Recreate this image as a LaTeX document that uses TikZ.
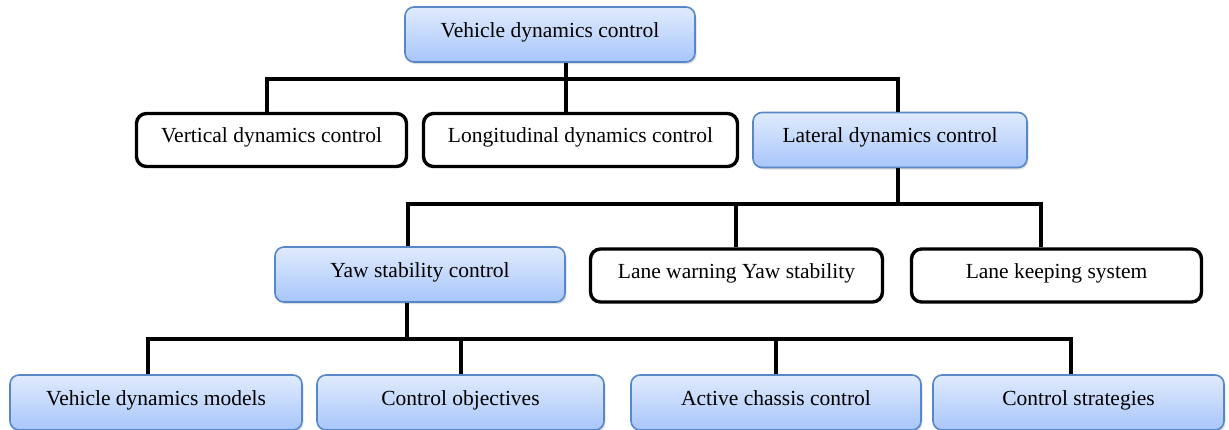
\documentclass[tikz,border=0pt]{standalone}
\usepackage{fontspec}
\setmainfont{Liberation Serif}
\usetikzlibrary{shadows}

\definecolor{boxtop}{RGB}{224,235,253}
\definecolor{boxbot}{RGB}{168,198,250}
\definecolor{boxline}{RGB}{88,135,199}

\begin{document}
\begin{tikzpicture}[
        x=1pt, y=-1pt,
        bluebox/.style={draw=boxline, line width=1.6pt, rounded corners=9pt, minimum height=55pt, inner sep=0pt, text height=13pt, text depth=8pt, align=center, font=\fontsize{21.5}{25}\selectfont, top color=boxtop, bottom color=boxbot, drop shadow={opacity=0.25, shadow xshift=1.5pt, shadow yshift=-2pt}},
        plainbox/.style={draw, line width=3.4pt, rounded corners=10pt, minimum height=53pt, inner sep=0pt, text height=13pt, text depth=8pt, align=center, font=\fontsize{21.5}{25}\selectfont, fill=white},
        link/.style={line width=3.6pt}
    ]
        \useasboundingbox (0,0) rectangle (1229,429);
        % junction points of the three bars
        \coordinate (r1a) at (267,79);
        \coordinate (r1b) at (566,79);
        \coordinate (r1c) at (898,79);
        \coordinate (r2a) at (408,204);
        \coordinate (r2b) at (736,204);
        \coordinate (r2c) at (1041,204);
        \coordinate (r3a) at (148,339);
        \coordinate (r3b) at (407,339);
        \coordinate (r3c) at (1071,339);
        % boxes
        \node[bluebox, minimum width=290pt] (top) at (550,34.5) {Vehicle dynamics control};
        \node[plainbox, minimum width=270pt] (vert) at (271.5,140) {Vertical dynamics control};
        \node[plainbox, minimum width=314pt] (long) at (580.5,140) {Longitudinal dynamics control};
        \node[bluebox, minimum width=274pt] (lat) at (890,140) {Lateral dynamics control};
        \node[bluebox, minimum width=290pt] (yaw) at (420,274.5) {Yaw stability control};
        \node[plainbox, minimum width=292pt] (warn) at (736.5,275.5) {Lane warning Yaw stability};
        \node[plainbox, minimum width=290pt] (keep) at (1056.5,275.5) {Lane keeping system};
        \node[bluebox, minimum width=292pt] (models) at (156,402.5) {Vehicle dynamics models};
        \node[bluebox, minimum width=287pt] (objs) at (460.5,402.5) {Control objectives};
        \node[bluebox, minimum width=290pt] (chassis) at (776,402.5) {Active chassis control};
        \node[bluebox, minimum width=291pt] (strat) at (1078.5,402.5) {Control strategies};
        % first level
        \draw[link] (r1b |- top.south) -- (r1b |- long.north);
        \draw[link] (r1a |- vert.north) -- (r1a) -- (r1c) -- (r1c |- lat.north);
        % second level
        \draw[link] (r1c |- lat.south) -- (r1c |- r2c);
        \draw[link] (r2a |- yaw.north) -- (r2a) -- (r2c) -- (r2c |- keep.north);
        \draw[link] (r2b) -- (r2b |- warn.north);
        % third level
        \draw[link] (r3b |- yaw.south) -- (r3b);
        \draw[link] (r3a |- models.north) -- (r3a) -- (r3c) -- (r3c |- strat.north);
        \foreach \n/\x in {objs/461, chassis/776}
            \draw[link] (\x,339) -- (\x,0 |- \n.north);
    \end{tikzpicture}
\end{document}
